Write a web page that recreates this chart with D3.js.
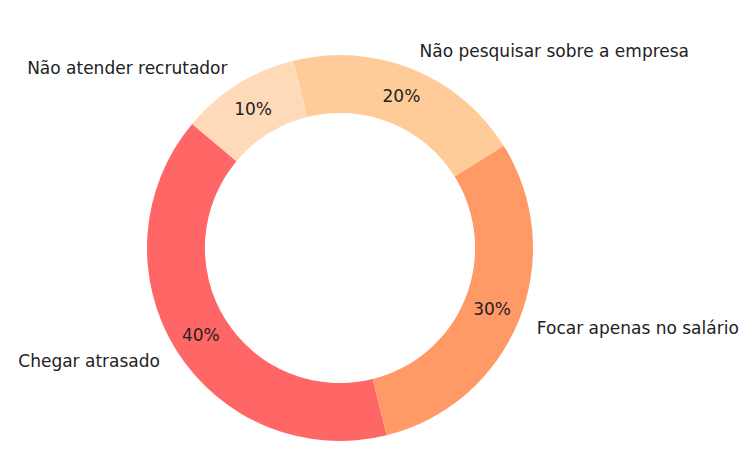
<!DOCTYPE html>
<html>
<head>
<meta charset="utf-8">
<script src="https://cdn.jsdelivr.net/npm/d3@7"></script>
<style>
  body { margin: 0; background: #fff; }
  text { font-family: "DejaVu Sans", sans-serif; fill: #222; }
</style>
</head>
<body>
<div class="chart"></div>
<script>
var svgWidth = 750;
var svgHeight = 461;

// data
var categories = ["Chegar atrasado", "Focar apenas no salário", "Não pesquisar sobre a empresa", "Não atender recrutador"];
var shares = [40, 30, 20, 10];
var colors = ["#ff6666", "#ff9966", "#ffcc99", "#ffdab9"];

var cx = 340, cy = 248;
var radius = 193;
var innerRadius = radius * 0.7;

var svg = d3.select(".chart")
  .append("svg")
  .attr("width", svgWidth)
  .attr("height", svgHeight);

var chartGroup = svg.append("g")
  .attr("transform", `translate(${cx}, ${cy})`);

// matplotlib style: startangle 140, counterclockwise
var deg = Math.PI / 180;
var pie = d3.pie()
  .sort(null)
  .value(d => d)
  .startAngle((90 - 140) * deg)
  .endAngle((90 - 140 - 360) * deg);

var arcs = pie(shares);

var arc = d3.arc()
  .innerRadius(innerRadius)
  .outerRadius(radius);

var labelArc = d3.arc()
  .innerRadius(radius * 1.1)
  .outerRadius(radius * 1.1);

var pctArc = d3.arc()
  .innerRadius(radius * 0.85)
  .outerRadius(radius * 0.85);

chartGroup.selectAll("path")
  .data(arcs)
  .enter()
  .append("path")
  .attr("d", arc)
  .attr("fill", (d, i) => colors[i]);

chartGroup.selectAll(".pct")
  .data(arcs)
  .enter()
  .append("text")
  .attr("class", "pct")
  .attr("x", d => pctArc.centroid(d)[0])
  .attr("y", d => pctArc.centroid(d)[1])
  .attr("text-anchor", "middle")
  .attr("dominant-baseline", "central")
  .attr("font-size", "17px")
  .text(d => d.data + "%");

chartGroup.selectAll(".label")
  .data(arcs)
  .enter()
  .append("text")
  .attr("class", "label")
  .attr("x", d => labelArc.centroid(d)[0])
  .attr("y", d => labelArc.centroid(d)[1])
  .attr("text-anchor", d => labelArc.centroid(d)[0] < 0 ? "end" : "start")
  .attr("dominant-baseline", "central")
  .attr("font-size", "17px")
  .text((d, i) => categories[i]);
</script>
</body>
</html>
